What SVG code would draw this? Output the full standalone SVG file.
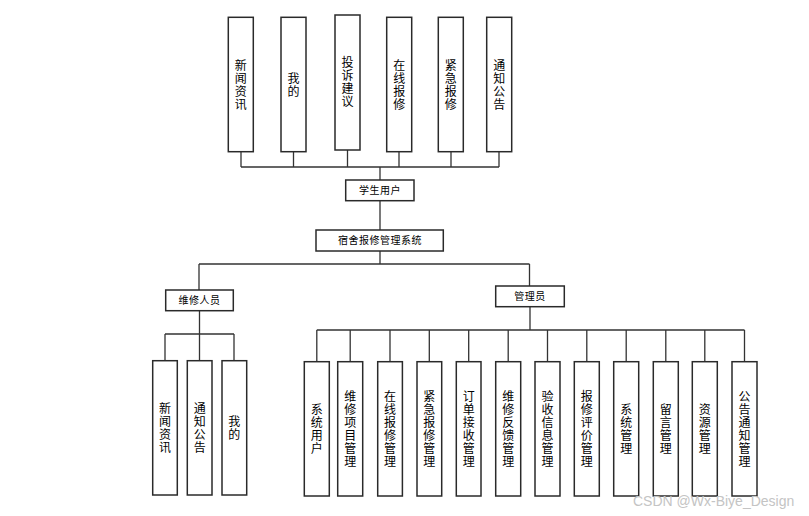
<svg xmlns="http://www.w3.org/2000/svg" width="809" height="516" viewBox="0 0 809 516">
<style>
.box{fill:#fff;stroke:#2a2a2a;stroke-width:1.5}
.v{font-family:"Noto Sans CJK SC","Liberation Sans",sans-serif;font-size:12px;writing-mode:vertical-rl;text-anchor:middle;letter-spacing:1px;fill:#000}
.h{font-family:"Noto Sans CJK SC","Liberation Sans",sans-serif;font-size:10px;text-anchor:middle;letter-spacing:0.5px;fill:#000}
.ln{stroke:#333;stroke-width:1.3;fill:none}
</style>
<rect width="809" height="516" fill="#fff"/>
<g id="connectors">
<path class="ln" d="M241 152V167M293.5 152V167M347.5 150V167M399 152V167M451 152V167M499 152V167M241 167H499"/>
<path class="ln" stroke-width="2" d="M380 167V180"/>
<path class="ln" d="M380 201V230M380 251V264M199 264H529.5M199 264V290M529.5 264V286"/>
<path class="ln" d="M199.5 311V361M165 334H234M165 334V361M234 334V361"/>
<path class="ln" d="M530 307V330M316.8 330H744.5M316.8 330V362M350.2 330V362M390 330V362M429.3 330V362M468.7 330V362M508.2 330V362M547.5 330V362M586.8 330V362M626.2 330V362M665.8 330V362M704.8 330V362M744.5 330V362"/>
</g>
<g id="n-xwzx"><rect class="box" x="228.3" y="17.3" width="25" height="134.4"/><text class="v" x="240.8" y="85">新闻资讯</text></g>
<g id="n-wd"><rect class="box" x="281" y="17.3" width="25" height="134.4"/><text class="v" x="293.5" y="85">我的</text></g>
<g id="n-tsjy"><rect class="box" x="335" y="15" width="25" height="135"/><text class="v" x="347.5" y="82.5">投诉建议</text></g>
<g id="n-zxbx"><rect class="box" x="386.7" y="17.3" width="25" height="134.4"/><text class="v" x="399.2" y="85">在线报修</text></g>
<g id="n-jjbx"><rect class="box" x="438.3" y="17.3" width="25" height="134.4"/><text class="v" x="450.8" y="85">紧急报修</text></g>
<g id="n-tzgg"><rect class="box" x="486.7" y="17.3" width="25" height="134.4"/><text class="v" x="499.2" y="85">通知公告</text></g>
<g id="n-xsyh"><rect class="box" x="345.7" y="180" width="68.3" height="20.7"/><text class="h" x="380" y="194">学生用户</text></g>
<g id="n-ssbx"><rect class="box" x="316" y="230" width="127.3" height="21"/><text class="h" x="380" y="244.3">宿舍报修管理系统</text></g>
<g id="n-wxry"><rect class="box" x="165.7" y="290" width="67.6" height="20.7"/><text class="h" x="199.5" y="304">维修人员</text></g>
<g id="n-gly"><rect class="box" x="495.7" y="286" width="68.6" height="20.7"/><text class="h" x="530" y="300">管理员</text></g>
<g id="n-w-xwzx"><rect class="box" x="152.7" y="360.7" width="24.6" height="134.3"/><text class="v" x="165" y="428">新闻资讯</text></g>
<g id="n-w-tzgg"><rect class="box" x="187.3" y="360.7" width="24.7" height="134.3"/><text class="v" x="199.7" y="428">通知公告</text></g>
<g id="n-w-wd"><rect class="box" x="222" y="360.7" width="24.7" height="134.3"/><text class="v" x="234.3" y="428">我的</text></g>
<g id="n-xtyh"><rect class="box" x="304.3" y="361.7" width="25" height="134.3"/><text class="v" x="316.8" y="429">系统用户</text></g>
<g id="n-wxxm"><rect class="box" x="337.7" y="361.7" width="25" height="134.3"/><text class="v" x="350.2" y="429">维修项目管理</text></g>
<g id="n-zxbxgl"><rect class="box" x="377.7" y="361.7" width="24.7" height="134.3"/><text class="v" x="390" y="429">在线报修管理</text></g>
<g id="n-jjbxgl"><rect class="box" x="417" y="361.7" width="24.7" height="134.3"/><text class="v" x="429.3" y="429">紧急报修管理</text></g>
<g id="n-ddjs"><rect class="box" x="456.3" y="361.7" width="24.7" height="134.3"/><text class="v" x="468.7" y="429">订单接收管理</text></g>
<g id="n-wxfk"><rect class="box" x="495.7" y="361.7" width="25" height="134.3"/><text class="v" x="508.2" y="429">维修反馈管理</text></g>
<g id="n-ysxx"><rect class="box" x="535" y="361.7" width="25" height="134.3"/><text class="v" x="547.5" y="429">验收信息管理</text></g>
<g id="n-bxpj"><rect class="box" x="574.3" y="361.7" width="25" height="134.3"/><text class="v" x="586.8" y="429">报修评价管理</text></g>
<g id="n-xtgl"><rect class="box" x="613.7" y="361.7" width="25" height="134.3"/><text class="v" x="626.2" y="429">系统管理</text></g>
<g id="n-lygl"><rect class="box" x="653.3" y="361.7" width="25" height="134.3"/><text class="v" x="665.8" y="429">留言管理</text></g>
<g id="n-zygl"><rect class="box" x="692.3" y="361.7" width="25" height="134.3"/><text class="v" x="704.8" y="429">资源管理</text></g>
<g id="n-ggtz"><rect class="box" x="732" y="361.7" width="25" height="134.3"/><text class="v" x="744.5" y="429">公告通知管理</text></g>
<text x="633" y="506" font-family="Liberation Sans, sans-serif" font-size="14" fill="#c4c4c4">CSDN @Wx-Biye_Design</text>
</svg>
